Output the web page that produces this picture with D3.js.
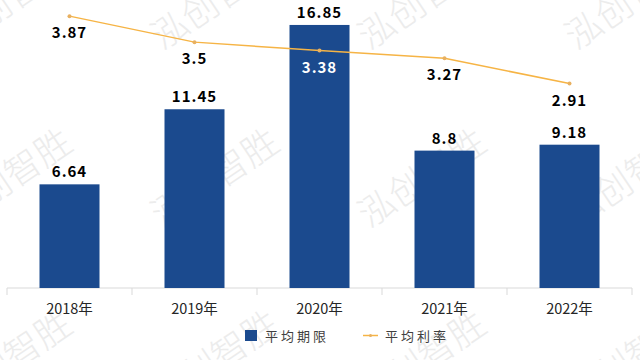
<!DOCTYPE html>
<head>
  <meta charset="utf-8">
  <script src="https://d3js.org/d3.v7.min.js"></script>
  <style>
    body { margin: 0; background: #fff; }
    text { font-family: "Noto Sans CJK SC", "Noto Sans", sans-serif; }
  </style>
</head>
<body>
  <svg width="640" height="360"></svg>
  <script>
    const years = ['2018年', '2019年', '2020年', '2021年', '2022年'];
    const avgTerm = [6.64, 11.45, 16.85, 8.8, 9.18];
    const avgRate = [3.87, 3.5, 3.38, 3.27, 2.91];
    const legendNames = ['平均期限', '平均利率'];
    const watermark = '泓创智胜';

    const svg = d3.select('svg');
    const barColor = '#1b4a8e';
    const lineColor = '#f6b445';

    // watermark behind everything
    const wm = svg.append('g');
    [0, 178, 360].forEach(cy => {
      [8, 215, 422, 629].forEach(cx => {
        wm.append('text')
          .attr('transform', `translate(${cx},${cy}) rotate(-34)`)
          .attr('text-anchor', 'middle')
          .attr('dy', '0.35em')
          .attr('font-size', 36)
          .attr('font-weight', 300)
          .attr('fill', '#ececec')
          .text(watermark);
      });
    });

    const band = d3.scaleBand().domain(years).range([7, 632]);
    const y = d3.scaleLinear().domain([0, 18]).range([288, 7]);
    const y2 = d3.scaleLinear().domain([0, 4]).range([288, 7]);
    const cx = (d, i) => band(years[i]) + band.bandwidth() / 2;

    // axis
    const axis = svg.append('g').attr('transform', 'translate(0,288)');
    axis.append('line').attr('x1', 7).attr('x2', 632).attr('stroke', '#d9d9d9');
    const edges = years.map(d => band(d)).concat([632]);
    axis.selectAll('.tk').data(edges).join('line')
      .attr('x1', d => d).attr('x2', d => d).attr('y1', 0).attr('y2', 7)
      .attr('stroke', '#d9d9d9');
    axis.selectAll('.lbl').data(years).join('text')
      .attr('x', d => band(d) + band.bandwidth() / 2)
      .attr('y', 26)
      .attr('text-anchor', 'middle')
      .attr('font-size', 14.5)
      .attr('fill', '#262626')
      .text(d => d);

    // bars
    const w = 60;
    svg.selectAll('.bar').data(avgTerm).join('rect')
      .attr('x', (d, i) => cx(d, i) - w / 2)
      .attr('y', d => y(d))
      .attr('width', w)
      .attr('height', d => y(0) - y(d))
      .attr('fill', barColor);

    svg.selectAll('.blbl').data(avgTerm).join('text')
      .attr('x', cx)
      .attr('y', d => y(d) - 7)
      .attr('text-anchor', 'middle')
      .attr('font-size', 15)
      .attr('font-weight', 'bold')
      .attr('letter-spacing', 1)
      .attr('fill', '#000')
      .text(d => d);

    // line
    const line = d3.line().x(cx).y(d => y2(d));
    svg.append('path').datum(avgRate)
      .attr('d', line)
      .attr('fill', 'none')
      .attr('stroke', lineColor)
      .attr('stroke-width', 1.5);
    svg.selectAll('.dot').data(avgRate).join('circle')
      .attr('cx', cx).attr('cy', d => y2(d)).attr('r', 2)
      .attr('fill', '#e8b060');

    svg.selectAll('.llbl').data(avgRate).join('text')
      .attr('x', cx)
      .attr('y', d => y2(d) + 22)
      .attr('text-anchor', 'middle')
      .attr('font-size', 15)
      .attr('font-weight', 'bold')
      .attr('letter-spacing', 1)
      .attr('fill', (d, i) => y2(d) + 10 > y(avgTerm[i]) ? '#fff' : '#000')
      .text(d => d);

    // legend
    const lg = svg.append('g');
    lg.append('rect').attr('x', 245).attr('y', 330).attr('width', 12).attr('height', 11).attr('fill', barColor);
    lg.append('text').attr('x', 265).attr('y', 341).attr('font-size', 13)
      .attr('letter-spacing', 3).attr('fill', '#404040').text(legendNames[0]);
    lg.append('line').attr('x1', 363).attr('x2', 378).attr('y1', 335.5).attr('y2', 335.5)
      .attr('stroke', lineColor).attr('stroke-width', 1.5);
    lg.append('circle').attr('cx', 370.5).attr('cy', 335.5).attr('r', 1.5).attr('fill', '#e8b060');
    lg.append('text').attr('x', 385).attr('y', 341).attr('font-size', 13)
      .attr('letter-spacing', 3).attr('fill', '#404040').text(legendNames[1]);
  </script>
</body>
